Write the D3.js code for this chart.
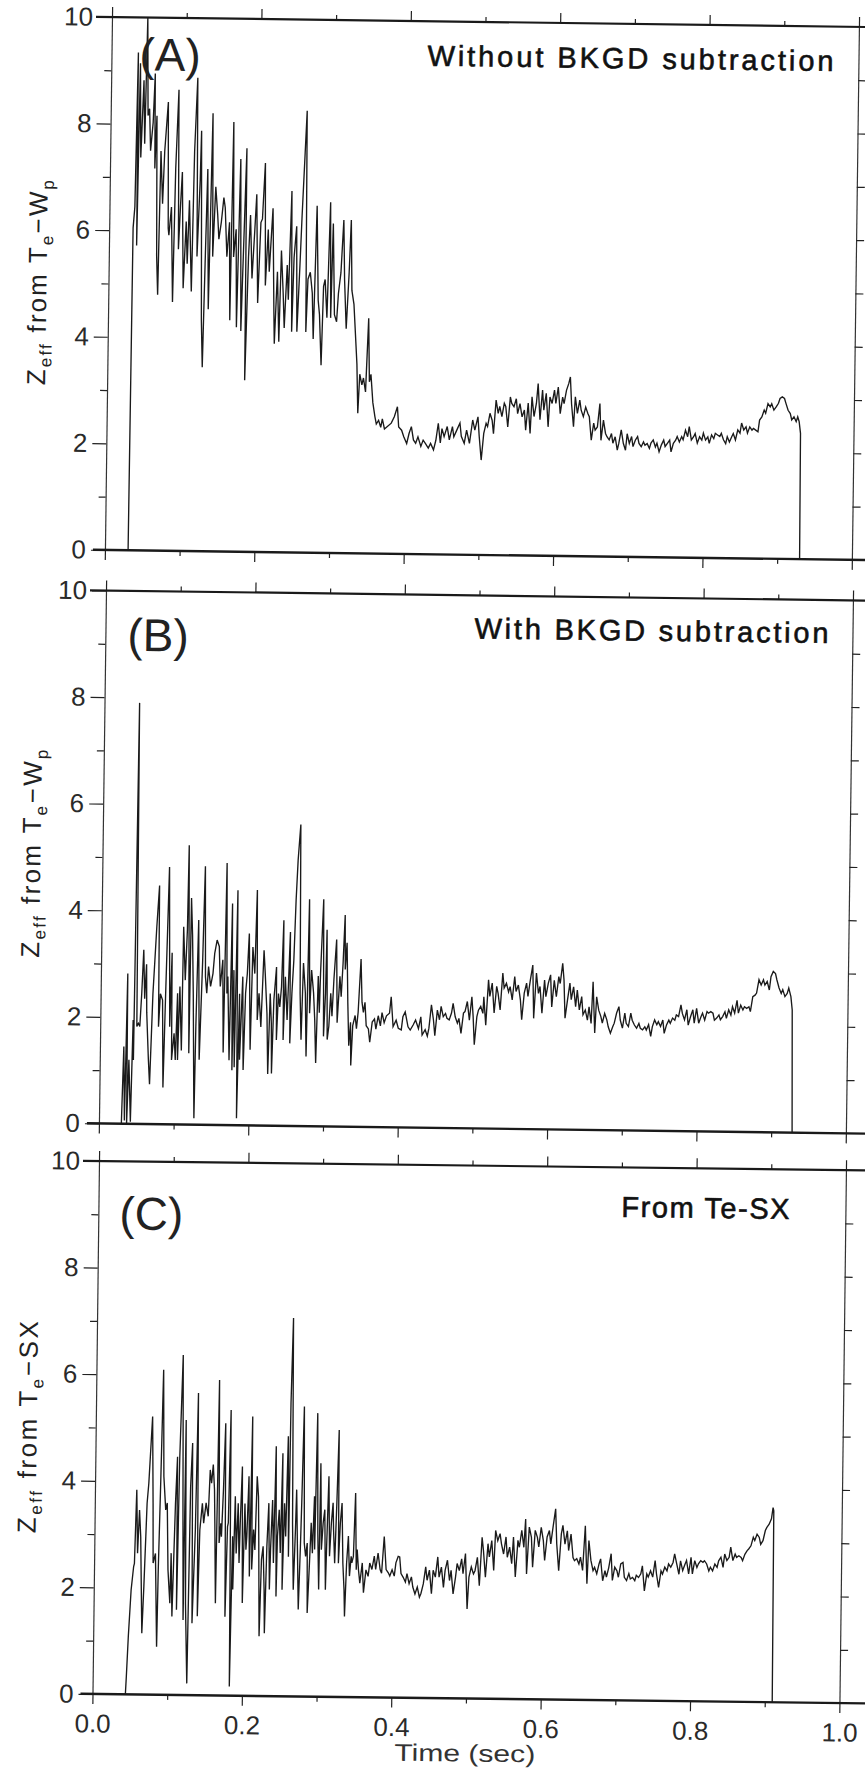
<!DOCTYPE html>
<html>
<head>
<meta charset="utf-8">
<script src="https://cdn.jsdelivr.net/npm/d3@7"></script>
<style>
  body { margin: 0; background: #fff; }
  svg { display: block; }
</style>
</head>
<body>
<svg id="drawing_region"></svg>
<script>
// Zeff traces: [time (s), Zeff]
const seriesA = [
  [0.031,0],[0.032,6.05],[0.034,6.45],[0.036,9.34],[0.037,5.72],[0.039,9.14],[0.041,7.37],[0.044,8.82],[0.046,7.63],[0.048,10.0],
  [0.050,8.16],[0.052,8.29],[0.054,7.50],[0.057,8.03],[0.059,8.95],[0.060,7.17],[0.062,8.16],[0.064,5.53],[0.066,4.80],[0.068,7.50],
  [0.071,6.51],[0.073,7.50],[0.077,8.42],[0.079,6.05],[0.080,5.92],[0.083,6.45],[0.086,4.67],[0.088,7.17],[0.091,8.65],[0.093,5.66],
  [0.095,6.45],[0.097,7.11],[0.100,4.93],[0.103,6.18],[0.105,5.39],[0.107,6.58],[0.111,4.87],[0.113,7.50],[0.116,8.88],[0.118,5.53],
  [0.121,6.97],[0.122,7.89],[0.125,4.34],[0.127,3.45],[0.129,5.39],[0.131,7.17],[0.134,4.54],[0.137,8.22],[0.139,5.53],[0.142,6.84],
  [0.145,6.32],[0.147,5.86],[0.150,6.18],[0.153,6.64],[0.155,6.45],[0.158,5.53],[0.161,6.18],[0.163,4.34],[0.165,8.06],[0.167,5.53],
  [0.170,6.05],[0.172,4.21],[0.175,7.37],[0.178,4.14],[0.180,5.53],[0.183,7.57],[0.184,3.22],[0.187,5.53],[0.189,6.32],[0.192,5.13],
  [0.195,6.05],[0.197,6.71],[0.200,4.67],[0.203,6.18],[0.205,6.25],[0.208,7.30],[0.210,5.00],[0.213,6.05],[0.215,5.26],[0.219,6.45],
  [0.222,4.47],[0.223,3.91],[0.226,5.26],[0.229,3.95],[0.231,5.66],[0.234,4.87],[0.236,4.21],[0.239,5.39],[0.241,4.74],[0.244,6.78],
  [0.246,4.14],[0.248,5.53],[0.251,6.12],[0.253,4.14],[0.256,5.39],[0.258,6.32],[0.261,7.50],[0.263,8.29],[0.265,4.14],[0.267,5.13],
  [0.270,5.26],[0.273,4.87],[0.275,4.01],[0.278,6.51],[0.281,4.74],[0.283,4.47],[0.286,3.52],[0.288,5.00],[0.290,5.13],[0.293,4.41],
  [0.296,6.58],[0.298,4.41],[0.300,6.18],[0.303,4.47],[0.306,4.34],[0.308,4.87],[0.311,5.26],[0.314,6.25],[0.316,5.13],[0.319,4.21],
  [0.322,5.26],[0.324,6.25],[0.326,4.93],[0.329,4.67],[0.334,3.55],[0.336,2.63],[0.338,3.36],[0.341,3.16],[0.343,3.29],[0.346,3.03],
  [0.349,4.41],[0.351,3.22],[0.353,3.36],[0.356,2.83],[0.359,2.57],[0.361,2.43],[0.364,2.50],[0.367,2.37],[0.369,2.53],[0.372,2.34],
  [0.381,2.45],[0.385,2.57],[0.389,2.76],[0.391,2.38],[0.395,2.32],[0.398,2.20],[0.402,2.07],[0.405,2.26],[0.408,2.39],[0.411,2.14],
  [0.414,2.08],[0.417,2.20],[0.421,2.02],[0.424,2.14],[0.427,2.08],[0.431,1.99],[0.434,2.08],[0.438,1.96],[0.441,2.14],[0.444,2.46],
  [0.447,2.09],[0.449,2.36],[0.452,2.21],[0.456,2.40],[0.459,2.15],[0.463,2.40],[0.465,2.21],[0.469,2.34],[0.473,2.47],[0.475,2.22],
  [0.479,2.09],[0.482,2.34],[0.486,2.09],[0.490,2.53],[0.493,2.34],[0.497,2.59],[0.499,2.22],[0.502,1.78],[0.505,2.28],[0.508,2.47],
  [0.510,2.41],[0.513,2.66],[0.516,2.53],[0.518,2.28],[0.521,2.91],[0.524,2.66],[0.526,2.79],[0.529,2.60],[0.532,2.85],[0.534,2.79],
  [0.537,2.41],[0.540,2.97],[0.542,2.85],[0.545,2.79],[0.548,2.94],[0.550,2.66],[0.553,2.85],[0.556,2.60],[0.559,2.73],[0.561,2.35],
  [0.564,2.86],[0.567,2.29],[0.569,2.98],[0.572,2.61],[0.575,2.86],[0.577,3.23],[0.580,2.55],[0.583,3.11],[0.585,2.73],[0.588,3.05],
  [0.591,2.42],[0.593,2.98],[0.596,2.86],[0.599,3.11],[0.601,2.86],[0.604,3.17],[0.607,2.67],[0.610,2.98],[0.612,2.86],[0.615,3.11],
  [0.618,3.24],[0.620,3.36],[0.622,2.86],[0.625,2.43],[0.627,2.99],[0.630,2.68],[0.633,2.93],[0.635,2.74],[0.638,2.62],[0.641,2.80],
  [0.644,2.68],[0.646,2.62],[0.649,2.18],[0.652,2.50],[0.654,2.37],[0.657,2.43],[0.660,2.87],[0.662,2.18],[0.665,2.56],[0.668,2.31],
  [0.670,2.25],[0.673,2.19],[0.676,2.31],[0.678,2.13],[0.681,2.25],[0.684,2.00],[0.686,2.13],[0.689,2.38],[0.692,2.13],[0.695,2.00],
  [0.697,2.31],[0.700,2.13],[0.703,2.26],[0.705,2.07],[0.708,2.19],[0.711,2.26],[0.713,2.13],[0.716,2.07],[0.719,2.16],[0.721,2.10],
  [0.724,2.13],[0.727,2.04],[0.729,2.14],[0.732,2.20],[0.735,2.07],[0.737,2.14],[0.740,1.98],[0.743,2.11],[0.746,2.20],[0.748,2.08],
  [0.751,2.14],[0.754,2.20],[0.756,1.98],[0.759,2.14],[0.762,2.20],[0.764,2.27],[0.767,2.17],[0.770,2.27],[0.772,2.21],[0.775,2.39],
  [0.778,2.27],[0.780,2.46],[0.783,2.21],[0.786,2.27],[0.788,2.33],[0.791,2.15],[0.794,2.27],[0.797,2.21],[0.799,2.34],[0.802,2.21],
  [0.805,2.27],[0.807,2.15],[0.810,2.31],[0.813,2.24],[0.815,2.34],[0.818,2.31],[0.821,2.28],[0.823,2.34],[0.826,2.22],[0.829,2.15],
  [0.831,2.28],[0.834,2.18],[0.837,2.28],[0.839,2.34],[0.842,2.22],[0.845,2.41],[0.848,2.35],[0.850,2.54],[0.853,2.41],[0.856,2.47],
  [0.858,2.35],[0.861,2.47],[0.864,2.41],[0.866,2.44],[0.869,2.41],[0.872,2.38],[0.874,2.60],[0.877,2.66],[0.880,2.79],[0.882,2.73],
  [0.885,2.91],[0.888,2.85],[0.890,2.91],[0.893,2.79],[0.896,2.85],[0.899,2.92],[0.901,3.01],[0.904,3.04],[0.907,3.01],[0.909,2.92],
  [0.912,2.79],[0.915,2.73],[0.917,2.61],[0.920,2.67],[0.923,2.58],[0.925,2.67],[0.927,2.58],[0.929,2.36],[0.930,0]
];

const seriesB = [
  [0.030,0],[0.032,1.45],[0.034,0.06],[0.036,2.82],[0.037,0.01],[0.039,1.20],[0.042,0.04],[0.044,1.95],[0.045,1.20],[0.047,7.90],
  [0.049,1.83],[0.051,1.89],[0.053,1.83],[0.055,2.45],[0.057,3.27],[0.059,2.35],[0.061,3.00],[0.062,2.10],[0.065,1.22],[0.067,0.75],
  [0.070,2.45],[0.072,3.07],[0.074,3.70],[0.077,4.48],[0.078,1.83],[0.080,2.45],[0.083,2.33],[0.085,0.69],[0.087,2.45],[0.090,4.83],
  [0.093,1.83],[0.095,3.22],[0.096,1.21],[0.099,1.71],[0.101,1.21],[0.103,2.46],[0.104,1.21],[0.106,2.59],[0.109,1.39],[0.110,3.71],
  [0.113,2.71],[0.115,3.65],[0.116,5.24],[0.119,1.34],[0.120,4.25],[0.122,3.56],[0.124,2.44],[0.127,0.12],[0.128,1.84],[0.130,3.84],
  [0.133,1.22],[0.136,3.09],[0.138,4.85],[0.140,2.78],[0.142,2.47],[0.144,2.97],[0.147,2.60],[0.150,2.84],[0.152,3.22],[0.155,3.47],
  [0.158,3.35],[0.160,2.60],[0.163,3.10],[0.165,1.36],[0.167,4.92],[0.169,2.47],[0.170,2.79],[0.173,1.22],[0.175,4.16],[0.177,1.03],
  [0.178,2.91],[0.180,1.09],[0.182,4.41],[0.184,0.13],[0.186,2.47],[0.187,1.23],[0.190,2.79],[0.192,1.04],[0.194,2.48],[0.196,2.85],
  [0.198,3.60],[0.201,1.42],[0.203,3.35],[0.206,2.85],[0.208,4.42],[0.210,1.98],[0.212,2.48],[0.215,1.85],[0.218,3.29],[0.220,2.85],
  [0.223,2.10],[0.225,0.97],[0.227,2.48],[0.229,1.92],[0.230,0.98],[0.232,2.36],[0.235,2.98],[0.236,1.61],[0.238,2.48],[0.240,2.23],
  [0.242,2.61],[0.244,3.86],[0.245,1.61],[0.247,2.80],[0.250,1.99],[0.253,3.64],[0.254,1.55],[0.256,2.49],[0.258,3.11],[0.260,4.24],
  [0.262,4.99],[0.265,5.66],[0.267,2.49],[0.269,1.62],[0.271,3.06],[0.274,2.50],[0.276,1.31],[0.278,4.26],[0.280,2.12],[0.282,2.93],
  [0.285,2.50],[0.287,2.00],[0.289,1.19],[0.291,2.82],[0.293,2.13],[0.294,2.88],[0.297,4.26],[0.299,1.69],[0.301,2.50],[0.302,3.69],
  [0.304,1.63],[0.306,1.88],[0.308,2.50],[0.310,2.07],[0.312,2.76],[0.315,3.51],[0.317,1.95],[0.320,2.82],[0.322,2.44],[0.324,3.07],
  [0.326,3.97],[0.327,2.95],[0.329,3.45],[0.331,2.33],[0.333,1.52],[0.335,1.96],[0.336,1.15],[0.338,1.90],[0.341,2.09],[0.343,1.84],
  [0.345,2.15],[0.348,3.15],[0.350,2.34],[0.352,2.15],[0.354,2.34],[0.356,1.90],[0.359,1.84],[0.361,1.59],[0.364,1.97],[0.367,2.03],
  [0.369,1.84],[0.372,2.09],[0.375,1.90],[0.377,2.15],[0.380,1.96],[0.383,2.09],[0.387,2.14],[0.389,2.45],[0.392,1.89],[0.396,2.01],
  [0.399,1.86],[0.403,1.83],[0.405,2.08],[0.408,2.17],[0.412,1.89],[0.415,1.83],[0.419,1.93],[0.422,2.02],[0.426,1.86],[0.429,2.08],
  [0.431,1.74],[0.435,1.84],[0.438,1.72],[0.440,1.87],[0.443,2.31],[0.446,2.02],[0.448,1.73],[0.451,2.21],[0.454,2.03],[0.456,2.28],
  [0.459,2.09],[0.462,2.15],[0.464,2.06],[0.467,2.03],[0.470,2.16],[0.472,2.34],[0.475,2.09],[0.478,1.97],[0.480,2.06],[0.483,1.78],
  [0.486,2.16],[0.488,2.19],[0.491,2.38],[0.494,2.03],[0.497,2.47],[0.499,2.10],[0.501,1.57],[0.504,2.10],[0.506,2.22],[0.509,2.29],
  [0.512,2.16],[0.513,2.47],[0.516,1.94],[0.519,2.79],[0.521,2.48],[0.524,2.73],[0.527,2.17],[0.530,2.67],[0.532,2.54],[0.535,2.23],
  [0.538,2.92],[0.540,2.64],[0.543,2.73],[0.546,2.57],[0.548,2.67],[0.551,2.42],[0.554,2.86],[0.556,2.58],[0.559,2.70],[0.562,2.42],
  [0.564,2.05],[0.567,2.55],[0.570,2.74],[0.572,2.49],[0.575,2.80],[0.578,3.08],[0.580,2.08],[0.583,2.93],[0.586,2.55],[0.588,2.68],
  [0.591,2.18],[0.594,2.80],[0.596,2.49],[0.599,2.74],[0.602,2.90],[0.604,2.30],[0.607,2.80],[0.610,2.49],[0.613,2.87],[0.615,2.74],
  [0.618,3.12],[0.620,2.81],[0.622,2.09],[0.625,2.43],[0.628,2.75],[0.630,2.44],[0.633,2.68],[0.636,2.31],[0.638,2.62],[0.641,2.25],
  [0.644,2.50],[0.646,2.16],[0.649,2.25],[0.652,2.06],[0.654,2.31],[0.657,2.00],[0.659,2.78],[0.662,1.82],[0.664,2.50],[0.667,2.25],
  [0.670,2.13],[0.672,2.01],[0.675,2.19],[0.678,2.07],[0.680,1.94],[0.683,1.82],[0.686,1.94],[0.688,2.01],[0.691,2.20],[0.694,2.32],
  [0.696,2.07],[0.699,1.92],[0.702,2.20],[0.704,2.01],[0.707,1.95],[0.710,2.20],[0.712,2.07],[0.715,1.98],[0.718,1.92],[0.721,2.01],
  [0.723,1.92],[0.726,1.89],[0.729,1.95],[0.731,1.89],[0.734,1.99],[0.737,1.77],[0.739,1.95],[0.742,2.08],[0.745,1.99],[0.747,2.05],
  [0.750,1.96],[0.753,2.08],[0.755,1.83],[0.758,1.99],[0.761,2.08],[0.763,2.02],[0.766,2.12],[0.769,2.08],[0.771,2.18],[0.774,2.15],
  [0.777,2.37],[0.779,2.21],[0.782,2.09],[0.785,2.28],[0.787,1.99],[0.790,2.15],[0.793,2.28],[0.795,2.03],[0.798,2.31],[0.801,2.03],
  [0.804,2.15],[0.806,2.22],[0.809,2.09],[0.812,2.25],[0.814,2.22],[0.817,2.25],[0.820,2.22],[0.822,2.09],[0.825,2.13],[0.828,2.19],
  [0.830,2.10],[0.833,2.16],[0.836,2.25],[0.838,2.13],[0.841,2.29],[0.844,2.19],[0.846,2.35],[0.849,2.23],[0.852,2.47],[0.854,2.23],
  [0.857,2.38],[0.860,2.29],[0.862,2.35],[0.865,2.32],[0.868,2.35],[0.870,2.26],[0.873,2.54],[0.876,2.57],[0.878,2.61],[0.881,2.86],
  [0.884,2.76],[0.887,2.86],[0.889,2.76],[0.892,2.83],[0.895,2.67],[0.897,2.92],[0.900,3.02],[0.903,2.98],[0.905,2.86],[0.908,2.71],
  [0.911,2.61],[0.913,2.68],[0.916,2.55],[0.919,2.61],[0.921,2.71],[0.924,2.55],[0.926,2.30],[0.928,0]
];

const seriesC = [
  [0.044,0],[0.045,0.33],[0.047,1.08],[0.050,1.96],[0.053,2.40],[0.054,2.46],[0.056,3.84],[0.058,2.65],[0.060,3.46],[0.062,2.96],
  [0.065,1.15],[0.067,2.03],[0.070,3.59],[0.072,3.97],[0.076,5.22],[0.078,3.59],[0.079,2.47],[0.082,2.65],[0.085,0.90],[0.086,2.34],
  [0.088,4.09],[0.090,6.10],[0.092,4.10],[0.095,3.47],[0.097,3.60],[0.099,2.35],[0.102,1.72],[0.103,2.66],[0.105,1.47],[0.108,3.60],
  [0.110,4.47],[0.111,1.60],[0.113,4.47],[0.116,6.38],[0.118,3.60],[0.120,1.41],[0.121,5.16],[0.123,1.72],[0.126,0.22],[0.128,3.91],
  [0.130,4.73],[0.132,1.35],[0.135,3.10],[0.137,5.67],[0.139,1.48],[0.141,3.10],[0.144,3.60],[0.146,3.23],[0.149,3.61],[0.152,3.36],
  [0.154,4.23],[0.156,3.98],[0.158,4.33],[0.160,3.86],[0.161,3.23],[0.163,1.73],[0.165,5.92],[0.167,2.86],[0.169,3.23],[0.170,2.98],
  [0.172,3.86],[0.174,5.11],[0.176,1.48],[0.178,3.17],[0.179,3.24],[0.181,5.36],[0.183,0.17],[0.185,2.99],[0.186,1.99],[0.188,3.74],
  [0.190,2.67],[0.192,3.61],[0.194,2.49],[0.195,3.24],[0.197,4.30],[0.199,1.74],[0.201,3.61],[0.203,2.74],[0.204,2.99],[0.206,4.12],
  [0.208,2.24],[0.210,5.24],[0.211,2.37],[0.213,3.12],[0.215,2.74],[0.217,4.12],[0.219,3.74],[0.220,2.99],[0.222,1.12],[0.224,2.56],
  [0.226,2.81],[0.228,1.99],[0.229,1.18],[0.231,2.81],[0.233,3.62],[0.235,2.00],[0.236,2.75],[0.238,3.68],[0.240,2.50],[0.242,4.69],
  [0.244,1.87],[0.245,3.00],[0.247,3.50],[0.249,2.69],[0.251,4.56],[0.252,2.00],[0.254,3.62],[0.256,3.00],[0.258,4.88],[0.260,2.62],
  [0.261,5.50],[0.263,7.10],[0.265,3.25],[0.267,2.00],[0.269,3.13],[0.270,3.88],[0.272,2.75],[0.274,1.63],[0.276,2.88],[0.277,3.63],
  [0.279,5.44],[0.281,2.88],[0.283,2.63],[0.285,2.88],[0.286,1.57],[0.288,2.38],[0.290,3.26],[0.292,2.69],[0.294,3.76],[0.295,2.76],
  [0.297,5.32],[0.299,3.07],[0.301,2.01],[0.302,4.38],[0.304,2.76],[0.306,3.26],[0.308,3.51],[0.310,2.01],[0.311,2.82],[0.313,4.14],
  [0.315,2.64],[0.317,3.26],[0.319,3.64],[0.320,3.14],[0.322,2.51],[0.324,3.64],[0.326,5.01],[0.327,2.51],[0.329,3.26],[0.331,3.64],
  [0.333,2.51],[0.335,2.01],[0.336,1.51],[0.338,2.51],[0.340,3.02],[0.342,2.27],[0.344,2.64],[0.345,2.52],[0.347,2.64],[0.349,3.83],
  [0.351,2.39],[0.352,2.77],[0.354,2.39],[0.356,2.14],[0.359,2.52],[0.361,1.96],[0.364,2.39],[0.367,2.27],[0.369,2.52],[0.372,2.40],
  [0.375,2.65],[0.377,2.40],[0.380,2.71],[0.383,2.40],[0.385,2.33],[0.388,3.02],[0.391,2.40],[0.394,2.34],[0.396,2.28],[0.399,2.40],
  [0.402,2.28],[0.404,2.53],[0.407,2.65],[0.409,2.64],[0.411,2.33],[0.414,2.26],[0.417,2.17],[0.419,2.33],[0.422,2.14],[0.425,2.27],
  [0.427,2.08],[0.430,1.95],[0.433,2.08],[0.436,1.89],[0.438,1.96],[0.441,2.14],[0.444,2.46],[0.446,2.21],[0.449,2.40],[0.452,1.96],
  [0.454,2.40],[0.457,2.27],[0.460,2.65],[0.462,2.27],[0.465,2.46],[0.468,2.08],[0.470,2.40],[0.473,2.59],[0.476,2.21],[0.478,2.40],
  [0.481,1.96],[0.484,2.27],[0.486,2.53],[0.489,2.40],[0.492,2.62],[0.494,2.34],[0.497,2.72],[0.500,1.68],[0.502,2.28],[0.505,2.47],
  [0.508,2.34],[0.510,2.40],[0.513,2.65],[0.516,2.12],[0.519,3.03],[0.521,2.78],[0.524,2.28],[0.527,2.91],[0.529,2.66],[0.532,2.97],
  [0.535,2.41],[0.537,3.16],[0.540,2.97],[0.543,3.10],[0.545,2.91],[0.548,2.72],[0.551,3.04],[0.553,2.66],[0.556,2.85],[0.559,2.54],
  [0.561,3.04],[0.564,2.29],[0.567,2.98],[0.569,2.85],[0.572,3.17],[0.575,2.85],[0.577,3.38],[0.579,2.35],[0.582,3.23],[0.585,3.04],
  [0.587,2.48],[0.590,3.17],[0.593,3.04],[0.595,2.86],[0.598,3.23],[0.601,2.98],[0.603,2.61],[0.606,3.05],[0.609,3.17],[0.611,2.92],
  [0.614,3.26],[0.617,3.58],[0.619,2.92],[0.622,2.42],[0.625,3.11],[0.627,3.27],[0.630,2.92],[0.633,3.17],[0.635,2.80],[0.638,3.11],
  [0.641,2.67],[0.643,2.61],[0.646,2.65],[0.649,2.55],[0.651,2.68],[0.654,2.43],[0.657,3.27],[0.660,2.18],[0.662,2.99],[0.665,2.62],
  [0.668,2.43],[0.670,2.49],[0.673,2.37],[0.676,2.56],[0.678,2.65],[0.681,2.24],[0.684,2.43],[0.686,2.31],[0.689,2.49],[0.692,2.75],
  [0.694,2.25],[0.697,2.50],[0.700,2.43],[0.702,2.31],[0.705,2.56],[0.708,2.59],[0.710,2.31],[0.713,2.25],[0.716,2.38],[0.718,2.28],
  [0.721,2.31],[0.724,2.25],[0.726,2.35],[0.729,2.31],[0.732,2.38],[0.734,2.53],[0.737,2.06],[0.740,2.38],[0.742,2.32],[0.745,2.44],
  [0.748,2.32],[0.751,2.63],[0.753,2.38],[0.756,2.13],[0.759,2.44],[0.761,2.38],[0.764,2.51],[0.767,2.44],[0.769,2.57],[0.772,2.51],
  [0.775,2.60],[0.777,2.76],[0.780,2.57],[0.783,2.38],[0.785,2.63],[0.788,2.45],[0.791,2.57],[0.793,2.64],[0.796,2.39],[0.799,2.70],
  [0.801,2.39],[0.804,2.64],[0.807,2.51],[0.809,2.58],[0.812,2.64],[0.815,2.61],[0.817,2.64],[0.820,2.58],[0.823,2.45],[0.825,2.52],
  [0.828,2.45],[0.831,2.58],[0.834,2.52],[0.836,2.64],[0.839,2.71],[0.842,2.52],[0.844,2.77],[0.847,2.65],[0.850,2.71],[0.852,2.90],
  [0.855,2.65],[0.858,2.77],[0.860,2.71],[0.863,2.74],[0.866,2.71],[0.868,2.65],[0.871,2.77],[0.874,2.84],[0.876,2.87],[0.879,2.93],
  [0.882,3.09],[0.884,3.03],[0.887,3.15],[0.890,3.09],[0.892,2.96],[0.895,3.03],[0.898,3.22],[0.900,3.28],[0.903,3.34],[0.906,3.44],
  [0.908,3.65],[0.909,3.59],[0.910,0]
];

const yMajorTicks = [0, 2, 4, 6, 8, 10];
const yMinorTicks = [1, 3, 5, 7, 9];
const yRightTicks = [1, 2, 3, 4, 5, 6, 7, 8, 9];
const xMajorTicks = [0, 0.2, 0.4, 0.6, 0.8, 1.0];
const xMinorTicks = [0.1, 0.3, 0.5, 0.7, 0.9];
const panelTags = ['(A)', '(B)', '(C)'];
const panelNotes = ['Without BKGD subtraction', 'With BKGD subtraction', 'From Te-SX'];
const yLabelTails = [['\u2212W', 'p'], ['\u2212W', 'p'], ['\u2212SX', '']];
const xLabel = 'Time (sec)';

// placement of each scanned panel (it sits slightly rotated on the page)
const panels = [
    { data: seriesA, ox: 112, oy: 17,    rot: 0.76, tag: [28, 53], note: [722, 44.5, 406], ylab: [-62, 369, 205] },
    { data: seriesB, ox: 106, oy: 590.5, rot: 0.76, tag: [22, 60], note: [723, 43,   354], ylab: [-62, 368, 208] },
    { data: seriesC, ox: 99,  oy: 1161,  rot: 0.70, tag: [21, 68], note: [691, 49.5, 168], ylab: [-59, 373, 212] },
];

const width = 865, height = 1773;
const inner_width = 747, inner_height = 533;
const font = "'Liberation Sans', Arial, sans-serif";
const ink = '#1a1a1a';

const svg = d3.select('#drawing_region')
    .attr('width', width)
    .attr('height', height);

svg.append('rect').attr('width', width).attr('height', height).attr('fill', '#fff');

const xscale = d3.scaleLinear().domain([0, 1]).range([0, inner_width]);
const yscale = d3.scaleLinear().domain([0, 10]).range([inner_height, 0]);

const line = d3.line()
    .x(d => xscale(d[0]))
    .y(d => yscale(d[1]));

function styleAxis(g, keepDomain) {
    g.attr('font-family', font).attr('font-size', 26);
    g.selectAll('.tick line').attr('stroke', '#222').attr('stroke-width', 1.2);
    g.selectAll('.tick text').attr('fill', '#2a2a2a');
    if (keepDomain) g.select('.domain').attr('stroke', '#333').attr('stroke-width', 1.2);
    else g.select('.domain').remove();
}

panels.forEach((p, i) => {
    const chart = svg.append('g')
        .attr('transform', `translate(${p.ox}, ${p.oy}) rotate(${p.rot})`);

    // left axis
    chart.append('g')
        .call(d3.axisLeft(yscale).tickValues(yMajorTicks).tickSize(14).tickSizeOuter(0).tickPadding(5).tickFormat(d3.format('d')))
        .call(g => styleAxis(g, true));
    chart.append('g')
        .call(d3.axisLeft(yscale).tickValues(yMinorTicks).tickSize(7).tickSizeOuter(0).tickFormat(''))
        .call(g => styleAxis(g, false));

    // right axis
    chart.append('g')
        .attr('transform', `translate(${inner_width}, 0)`)
        .call(d3.axisRight(yscale).tickValues(yRightTicks).tickSize(8).tickSizeOuter(0).tickFormat(''))
        .call(g => styleAxis(g, true));

    // top axis
    chart.append('g')
        .call(d3.axisTop(xscale).tickValues(xMajorTicks).tickSize(10).tickFormat(''))
        .call(g => styleAxis(g, false));
    chart.append('g')
        .call(d3.axisTop(xscale).tickValues(xMinorTicks).tickSize(5).tickFormat(''))
        .call(g => styleAxis(g, false));

    // bottom axis (labels only on the last panel)
    chart.append('g')
        .attr('transform', `translate(0, ${inner_height})`)
        .call(d3.axisBottom(xscale).tickValues(xMajorTicks).tickSize(10).tickPadding(10)
            .tickFormat(i === 2 ? d3.format('.1f') : ''))
        .call(g => styleAxis(g, false));
    chart.append('g')
        .attr('transform', `translate(0, ${inner_height})`)
        .call(d3.axisBottom(xscale).tickValues(xMinorTicks).tickSize(5).tickFormat(''))
        .call(g => styleAxis(g, false));

    // heavy frame lines at Zeff = 10 and Zeff = 0
    chart.append('line')
        .attr('x1', -16).attr('x2', inner_width + 40)
        .attr('y1', yscale(10)).attr('y2', yscale(10))
        .attr('stroke', ink).attr('stroke-width', 2.2);
    chart.append('line')
        .attr('x1', -12).attr('x2', inner_width + 40)
        .attr('y1', yscale(0)).attr('y2', yscale(0))
        .attr('stroke', ink).attr('stroke-width', 2.4);

    // trace
    chart.append('path')
        .attr('d', line(p.data))
        .attr('fill', 'none')
        .attr('stroke', ink)
        .attr('stroke-width', 1.35)
        .attr('stroke-linejoin', 'miter');

    // panel tag and note
    chart.append('text')
        .attr('x', p.tag[0]).attr('y', p.tag[1])
        .attr('font-family', font).attr('font-size', 46)
        .attr('fill', '#222')
        .text(panelTags[i]);
    chart.append('text')
        .attr('x', p.note[0]).attr('y', p.note[1])
        .attr('text-anchor', 'end')
        .attr('font-family', font).attr('font-size', 29)
        .attr('textLength', p.note[2]).attr('lengthAdjust', 'spacing')
        .attr('fill', '#111')
        .attr('stroke', '#111').attr('stroke-width', 0.6)
        .text(panelNotes[i]);

    // y label: Z_eff from T_e-W_p, written bottom to top
    const ylab = chart.append('text')
        .attr('transform', `translate(${p.ylab[0]}, ${p.ylab[1]}) rotate(-90)`)
        .attr('text-anchor', 'start')
        .attr('font-family', font).attr('font-size', 26)
        .attr('textLength', p.ylab[2]).attr('lengthAdjust', 'spacing')
        .attr('fill', '#222');
    ylab.append('tspan').text('Z');
    ylab.append('tspan').attr('font-size', 17).attr('dy', 6).text('eff');
    ylab.append('tspan').attr('dy', -6).text(' from T');
    ylab.append('tspan').attr('font-size', 17).attr('dy', 6).text('e');
    ylab.append('tspan').attr('dy', -6).text(yLabelTails[i][0]);
    if (yLabelTails[i][1]) ylab.append('tspan').attr('font-size', 17).attr('dy', 6).text(yLabelTails[i][1]);

    if (i === 2) {
        chart.append('text')
            .attr('x', 373).attr('y', 596)
            .attr('text-anchor', 'middle')
            .attr('font-family', font).attr('font-size', 24)
            .attr('textLength', 141).attr('lengthAdjust', 'spacingAndGlyphs')
            .attr('fill', '#333')
            .text(xLabel);
    }
});
</script>
</body>
</html>
